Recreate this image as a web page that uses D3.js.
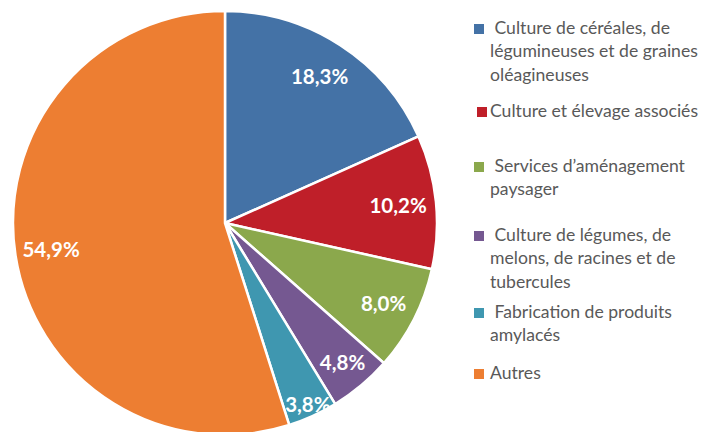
<!DOCTYPE html>
<html><head><meta charset="utf-8">
<script src="https://cdn.jsdelivr.net/npm/d3@7"></script>
<style>body{margin:0;background:#fff}svg{display:block}</style>
</head><body>
<script>
const categories = [
  "Culture de céréales, de légumineuses et de graines oléagineuses",
  "Culture et élevage associés",
  "Services d’aménagement paysager",
  "Culture de légumes, de melons, de racines et de tubercules",
  "Fabrication de produits amylacés",
  "Autres"
];
const values = [18.3, 10.2, 8.0, 4.8, 3.8, 54.9];
const valueLabels = ["18,3%", "10,2%", "8,0%", "4,8%", "3,8%", "54,9%"];
const legendLines = [
  [" Culture de céréales, de", "légumineuses et de graines", "oléagineuses"],
  ["Culture et élevage associés"],
  [" Services d’aménagement", "paysager"],
  [" Culture de légumes, de", "melons, de racines et de", "tubercules"],
  [" Fabrication de produits", "amylacés"],
  ["Autres"]
];
const colors = ["#4472A6", "#BF1F29", "#8BA84C", "#755891", "#3F97B0", "#ED7E32"];

const W = 706, H = 432;
const svg = d3.select("body").append("svg").attr("width", W).attr("height", H);
const cx = 225, cy = 223, R = 212;

const pie = d3.pie().sort(null).value(d => d)(values);
const arc = d3.arc().innerRadius(0).outerRadius(R);
const g = svg.append("g").attr("transform", `translate(${cx},${cy})`);
g.selectAll("path").data(pie).join("path")
  .attr("d", arc).attr("fill", (d, i) => colors[i])
  .attr("stroke", "#fff").attr("stroke-width", 2.5).attr("stroke-linejoin", "round");

const labelR = [174, 174, 178, 183, 200, 176];
g.selectAll("text").data(pie).join("text")
  .attr("transform", (d, i) => {
    const a = (d.startAngle + d.endAngle) / 2;
    return `translate(${Math.sin(a) * labelR[i]},${-Math.cos(a) * labelR[i]})`;
  })
  .attr("text-anchor", "middle").attr("dy", "0.35em")
  .attr("fill", "#fff").attr("font-family", "Lato, 'Open Sans', sans-serif")
  .attr("font-weight", "bold").attr("font-size", 20.5)
  .text((d, i) => valueLabels[i]);

const legendY = [34, 117, 172, 241, 318, 379];
const sqX = [474, 477, 474, 474, 474, 474];
const lg = svg.append("g");
categories.forEach((c, i) => {
  lg.append("rect").attr("x", sqX[i]).attr("y", legendY[i] - 10)
    .attr("width", 10).attr("height", 10).attr("fill", colors[i]);
  const t = lg.append("text").attr("font-family", "Lato, 'Open Sans', sans-serif")
    .attr("font-size", 17.6).attr("fill", "#595959");
  legendLines[i].forEach((ln, j) => {
    t.append("tspan").attr("x", 490).attr("y", legendY[i] + j * 23.3)
      .attr("xml:space", "preserve").style("white-space", "pre").text(ln);
  });
});
</script>
</body></html>
